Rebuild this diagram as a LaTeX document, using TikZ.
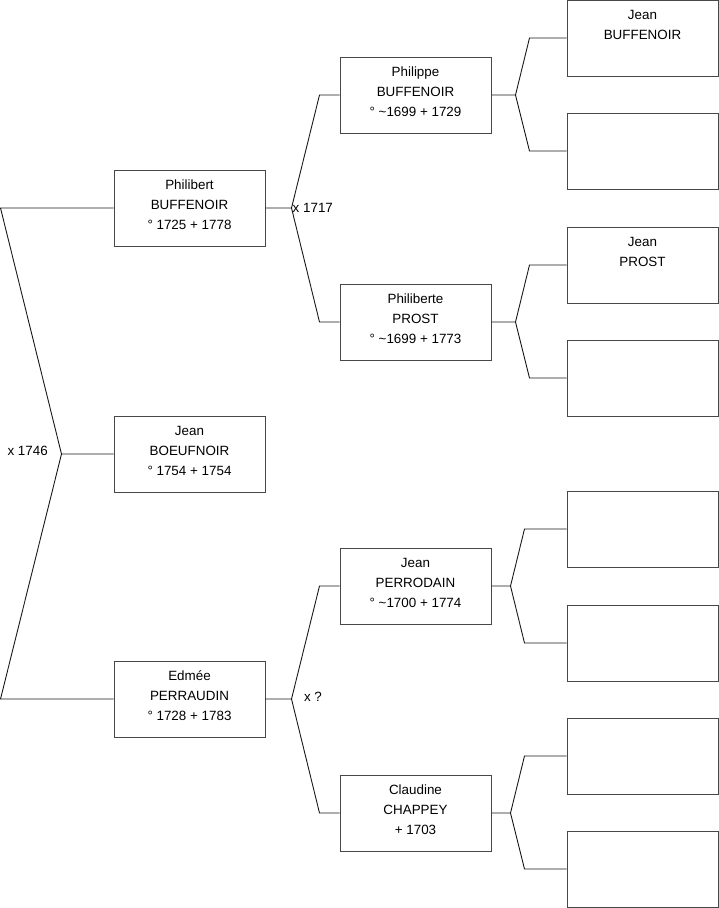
\documentclass[tikz,border=0pt]{standalone}
\usepackage{fontspec}
\setmainfont{Liberation Sans}
\usepackage{tikz}
\usetikzlibrary{positioning,calc}

\begin{document}
\begin{tikzpicture}[x=1pt, y=-1pt, font=\fontsize{13.4}{20}\selectfont,
  person/.style={draw=black!72, line width=1pt, minimum width=151pt, minimum height=76pt,
    inner sep=0pt, align=center, execute at begin node=\strut, execute at end node=\strut},
  link/.style={draw=black!90, line width=0.9pt}]
  \useasboundingbox (0,0) rectangle (719,908);
  % children
  \node[person] (c1) at (189.5,208) {Philibert\\BUFFENOIR\\° 1725 + 1778};
  \node[person] (c2) at (189.5,454) {Jean\\BOEUFNOIR\\° 1754 + 1754};
  \node[person] (c3) at (189.5,699) {Edmée\\PERRAUDIN\\° 1728 + 1783};
  % parents
  \node[person] (p1) at (415.5,95) {Philippe\\BUFFENOIR\\° \textasciitilde1699 + 1729};
  \node[person] (p2) at (415.5,322) {Philiberte\\PROST\\° \textasciitilde1699 + 1773};
  \node[person] (p3) at (415.5,586) {Jean\\PERRODAIN\\° \textasciitilde1700 + 1774};
  \node[person] (p4) at (415.5,813) {Claudine\\CHAPPEY\\+ 1703};
  % grandparents
  \node[person] (g1) at (642.5,38) {Jean\\BUFFENOIR\\};
  \node[person] (g3) at (642.5,265) {Jean\\PROST\\};
  \foreach \i/\y in {2/151,4/378,5/529,6/643,7/756,8/869}
    \node[person] (g\i) at (642.5,\y) {};

  % couple of the children
  \coordinate (m0) at ($(c2.west)+(-52,0)$);
  \draw[link] (c1.west) -- ++(-113,0) -- (m0) -- (c2.west);
  \draw[link] (m0) -- ($(c3.west)+(-113,0)$) -- (c3.west);
  \node[anchor=west] (w0) at (4,451) {x 1746};

  % couples of the parents
  \foreach \c/\a/\b in {c1/p1/p2, c3/p3/p4} {
    \coordinate (k\c) at ($(\c.east)+(26,0)$);
    \draw[link] (\c.east) -- (k\c) -- ($(k\c |- \a.west)+(28,0)$) -- (\a.west);
    \draw[link] (k\c) -- ($(k\c |- \b.west)+(28,0)$) -- (\b.west);
  }
  \node[anchor=west, inner sep=1pt] (w1) at (kc1) {x 1717};
  \node[anchor=west] (w3) at ($(kc3)+(9,-2)$) {x ?};

  % couples of the grandparents
  \foreach \p/\a/\b/\d in {p1/g1/g2/24, p2/g3/g4/24, p3/g5/g6/19, p4/g7/g8/19} {
    \coordinate (k\p) at ($(\p.east)+(\d,0)$);
    \draw[link] (\p.east) -- (k\p) -- ($(k\p |- \a.west)+(14,0)$) -- (\a.west);
    \draw[link] (k\p) -- ($(k\p |- \b.west)+(14,0)$) -- (\b.west);
  }
\end{tikzpicture}
\end{document}
